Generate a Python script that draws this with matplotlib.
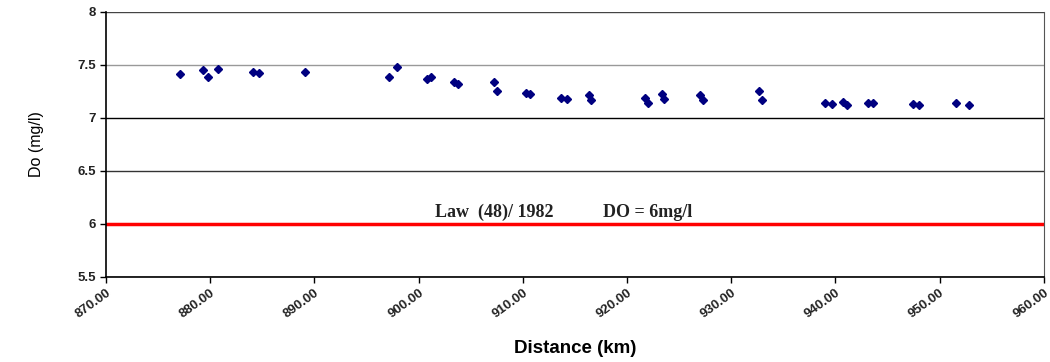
import matplotlib
matplotlib.use("Agg")
import matplotlib.pyplot as plt
import numpy as np

# distance (km) and dissolved oxygen (mg/l)
distance = [877.1, 879.3, 879.8, 880.7, 884.1, 884.7, 889.1, 897.2, 897.9,
            900.8, 901.2, 903.4, 903.8, 907.2, 907.5, 910.3, 910.7, 913.7,
            914.2, 916.4, 916.5, 921.7, 922.0, 923.4, 923.6, 927.0, 927.3,
            932.7, 933.0, 939.0, 939.7, 940.7, 941.1, 943.1, 943.6, 947.5,
            948.0, 951.6, 952.8]
do_mgl = [7.41, 7.45, 7.39, 7.46, 7.43, 7.42, 7.43, 7.39, 7.48,
          7.37, 7.39, 7.34, 7.32, 7.34, 7.25, 7.24, 7.23, 7.19,
          7.18, 7.22, 7.17, 7.19, 7.14, 7.23, 7.18, 7.22, 7.17,
          7.25, 7.17, 7.14, 7.13, 7.15, 7.12, 7.14, 7.14, 7.13,
          7.12, 7.14, 7.12]
law_limit = 6.0
y_grid = [5.5, 6.0, 6.5, 7.0, 7.5, 8.0]
grid_colors = ['#333333', '#333333', '#333333', 'black', '#999999', '#444444']

fig = plt.figure(figsize=(10.5, 3.62), dpi=100)
ax = fig.add_axes([0.101, 0.235, 0.893, 0.732])

for yv, c in zip(y_grid, grid_colors):
    ax.axhline(yv, color=c, lw=1.0, zorder=1)
ax.axhline(law_limit, color='#ff0000', lw=2.5, zorder=2)

ax.plot(distance, do_mgl, 'D', color='#000080', markersize=4.5, zorder=3)

# annotation for the legal limit (two parts, as in the original)
ax.text(901.6, 6.11, 'Law  (48)/ 1982', family='Liberation Serif', fontweight='bold',
        fontsize=13, ha='left', va='center', color='#222222')
ax.text(917.7, 6.11, 'DO = 6mg/l', family='Liberation Serif', fontweight='bold',
        fontsize=13, ha='left', va='center', color='#222222')

ax.set_xlim(870, 960)
ax.set_ylim(5.5, 8)
ax.set_xticks(np.arange(870, 961, 10))
ax.set_xticklabels(['%.2f' % v for v in np.arange(870, 961, 10)],
                   rotation=36, ha='right', va='top', rotation_mode='anchor',
                   fontsize=9.5, fontweight='bold', color='#222222', family='Liberation Sans')
ax.set_yticks(y_grid)
ax.set_yticklabels(['%g' % v for v in y_grid], fontsize=9.5, fontweight='bold',
                   color='#222222', family='Liberation Sans')
ax.tick_params(axis='both', direction='out', length=4, width=1)
ax.tick_params(axis='x', pad=3)

ax.spines['top'].set_visible(False)
ax.spines['right'].set_color('#555555')
ax.spines['left'].set_linewidth(1.2)
ax.spines['bottom'].set_linewidth(1.2)

ax.set_xlabel('Distance (km)', fontsize=13.5, fontweight='bold', family='Liberation Sans', labelpad=14)
ax.set_ylabel('Do (mg/l)', fontsize=11.5, family='Liberation Sans', labelpad=24)

fig.savefig('out.png', dpi=100)
